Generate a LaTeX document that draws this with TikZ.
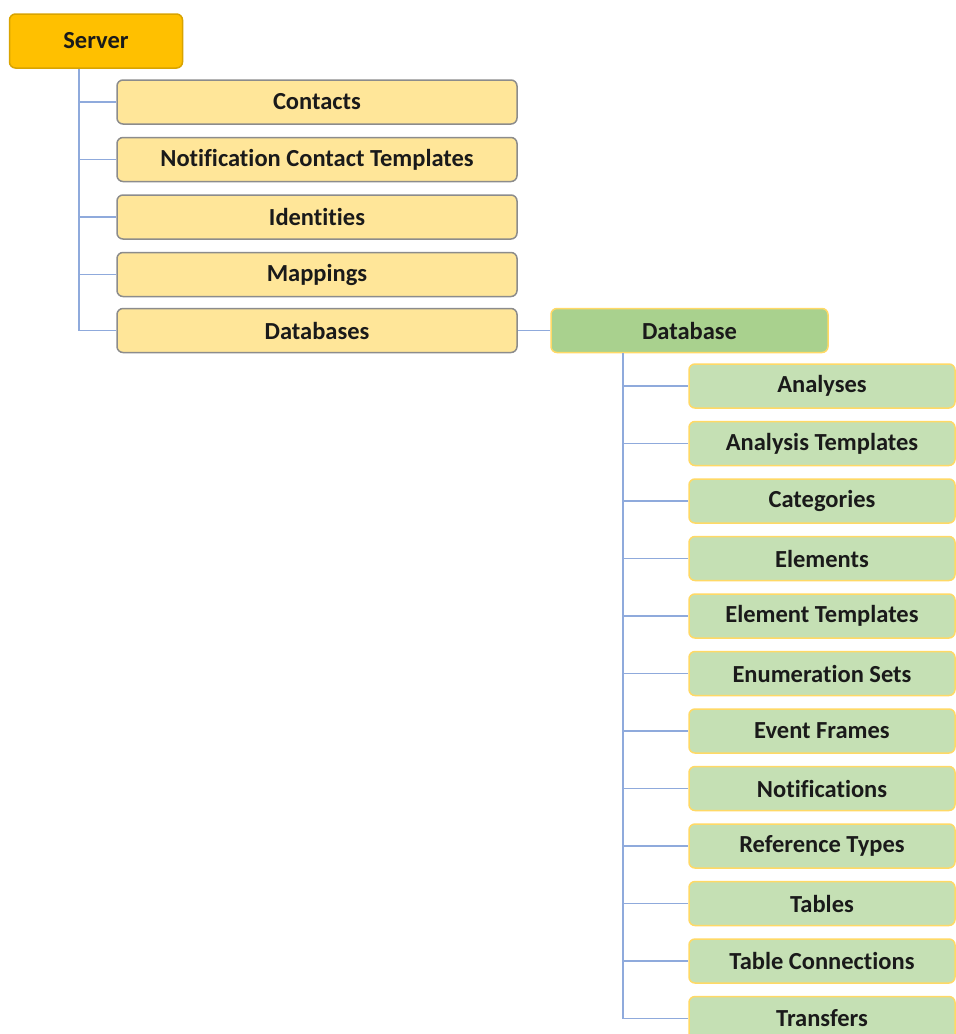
\documentclass[tikz,border=0pt]{standalone}
\usepackage{fontspec}
\setmainfont[Ligatures=NoCommon]{Carlito}
\definecolor{srvfill}{HTML}{FFC000}
\definecolor{srvdraw}{HTML}{D9A400}
\definecolor{yfill}{HTML}{FFE699}
\definecolor{ydraw}{HTML}{8C8C8C}
\definecolor{dbfill}{HTML}{A9D18E}
\definecolor{gfill}{HTML}{C5E0B4}
\definecolor{gdraw}{HTML}{FFD966}
\definecolor{linec}{HTML}{8FAADC}
\definecolor{txt}{HTML}{1A1A1A}
\begin{document}
\begin{tikzpicture}[x=1pt,y=-1pt,
  box/.style={rounded corners=6pt, line width=1.5pt, inner sep=0pt, font=\fontsize{24.5}{28}\selectfont\bfseries, text=txt},
  srvbox/.style={box, draw=srvdraw, fill=srvfill, minimum width=173pt, minimum height=54pt},
  ybox/.style={box, draw=ydraw, fill=yfill, minimum width=400pt, minimum height=44pt},
  dbbox/.style={box, draw=gdraw, fill=dbfill, minimum width=277pt, minimum height=44pt},
  gbox/.style={box, draw=gdraw, fill=gfill, minimum width=266pt, minimum height=44pt},
  conn/.style={draw=linec, line width=1.6pt}]
\useasboundingbox (0,0) rectangle (956,1034);
\fill[white] (0,0) rectangle (956,1034);

\node[srvbox] (server) at (96,41) {Server};
\node[ybox] (contacts) at (317,102) {Contacts};
\node[ybox] (nct) at (317,159.5) {Notification Contact Templates};
\node[ybox] (ident) at (317,217) {Identities};
\node[ybox] (map) at (317,274.5) {Mappings};
\node[ybox] (dbs) at (317,330.5) {Databases};

\node[dbbox] (db) at (689.5,330.5) {Database};

\node[gbox] (g1) at (822,386) {Analyses};
\node[gbox] (g2) at (822,443.5) {Analysis Templates};
\node[gbox] (g3) at (822,501) {Categories};
\node[gbox] (g4) at (822,558.5) {Elements};
\node[gbox] (g5) at (822,616) {Element Templates};
\node[gbox] (g6) at (822,673.5) {Enumeration Sets};
\node[gbox] (g7) at (822,731) {Event Frames};
\node[gbox] (g8) at (822,788.5) {Notifications};
\node[gbox] (g9) at (822,846) {Reference Types};
\node[gbox] (g10) at (822,903.5) {Tables};
\node[gbox] (g11) at (822,961) {Table Connections};
\node[gbox] (g12) at (822,1018.5) {Transfers};

% server tree
\coordinate (sv) at (79,0);
\draw[conn] (server.south -| sv) |- (dbs.west);
\foreach \n in {contacts,nct,ident,map}
  \draw[conn] (\n.west -| sv) -- (\n.west);
\draw[conn] (dbs.east) -- (db.west);

% database tree
\coordinate (dv) at (623,0);
\draw[conn] (db.south -| dv) |- (g12.west);
\foreach \n in {g1,g2,g3,g4,g5,g6,g7,g8,g9,g10,g11}
  \draw[conn] (\n.west -| dv) -- (\n.west);
\end{tikzpicture}
\end{document}
